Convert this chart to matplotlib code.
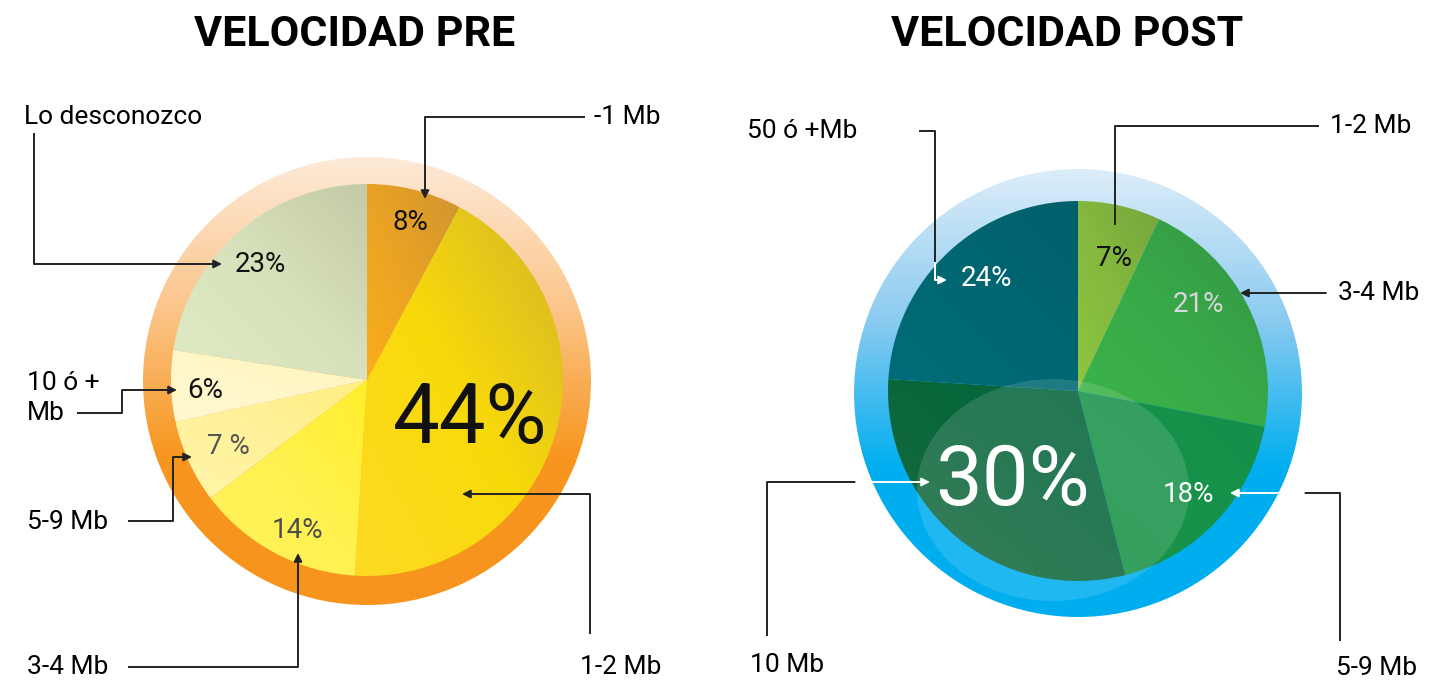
import numpy as np
import matplotlib
matplotlib.use('Agg')
import matplotlib.pyplot as plt
from matplotlib.colors import LinearSegmentedColormap
from matplotlib.patches import Circle, Ellipse

plt.rcParams['font.family'] = ['Roboto', 'DejaVu Sans']

# datos
pre_labels = ['-1 Mb', '1-2 Mb', '3-4 Mb', '5-9 Mb', '10 ó +\nMb', 'Lo desconozco']
pre_values = [8, 44, 14, 7, 6, 23]
pre_pct = ['8%', '44%', '14%', '7 %', '6%', '23%']

post_labels = ['1-2 Mb', '3-4 Mb', '5-9 Mb', '10 Mb', '50 ó +Mb']
post_values = [7, 21, 18, 30, 24]
post_pct = ['7%', '21%', '18%', '30%', '24%']

W, H = 1437, 683
fig = plt.figure(figsize=(W / 100, H / 100), dpi=100)
ax = fig.add_axes([0, 0, 1, 1])


def Y(py):
    return H - py


def grad_fill(patch, colors, extent, z, diag=False):
    cmap = LinearSegmentedColormap.from_list('g', colors)
    if diag:
        # de arriba-derecha (0) a abajo-izquierda (1)
        u = np.linspace(0, 1, 200)[None, :]
        v = np.linspace(0, 1, 200)[:, None]
        g = ((1 - u) + v) / 2
    else:
        g = np.linspace(0, 1, 256)[:, None]
    im = ax.imshow(g, cmap=cmap, extent=extent, origin='upper',
                   aspect='auto', zorder=z, interpolation='bilinear')
    im.set_clip_path(patch)


def draw_pie(values, center, r, ring_c, ring_r, ring_cols, slice_cols):
    cx, cy = ring_c
    ring = Circle((cx, cy), ring_r, facecolor='none', edgecolor='none')
    ax.add_patch(ring)
    grad_fill(ring, ring_cols, (cx - ring_r, cx + ring_r, cy - ring_r, cy + ring_r), 1)
    wedges, _ = ax.pie(values, center=center, radius=r, startangle=90,
                       counterclock=False, frame=True,
                       wedgeprops=dict(linewidth=0))
    for w, cols in zip(wedges, slice_cols):
        w.set_facecolor('none')
        w.set_zorder(2)
        bb = w.get_path().get_extents()
        grad_fill(w, cols, (bb.x0, bb.x1, bb.y0, bb.y1), 2, diag=True)
    return wedges


# --- PRE ---
pre_cols = [('#CF952F', '#E9A225', '#FAAE1A'),
            ('#D3B42A', '#F8DA0A', '#FDDA24'),
            ('#FFEE2A', '#FFF150', '#FFF35E'),
            ('#FFEF82', '#FFF29A', '#FFF5AA'),
            ('#FFF4BA', '#FFF7C8', '#FFF9D2'),
            ('#C4C9A6', '#D7E2BC', '#DFEBC5')]
draw_pie(pre_values, (367, Y(380)), 196, (367, Y(381)), 224,
         ['#FEEAD8', '#FBC68C', '#F7961F', '#F7941D'], pre_cols)

# --- POST ---
post_cols = [('#77A43D', '#84B83E', '#8DC63F'),
             ('#339444', '#38A948', '#3CB44A'),
             ('#15904A', '#17924A', '#1A9545'),
             ('#00633A', '#0A673C', '#1E6A3F'),
             ('#005F6B', '#006772', '#006C77')]
draw_pie(post_values, (1078, Y(391)), 190, (1078, Y(393)), 224,
         ['#DCEDF9', '#8CCBF0', '#00AEEF', '#00AEEF'], post_cols)
ax.add_patch(Ellipse((1053, Y(490)), 272, 222, facecolor='#FFFFFF', alpha=0.13,
                     edgecolor='none', zorder=3))

# titulos
ax.text(355, Y(35), 'VELOCIDAD PRE', ha='center', va='center', fontsize=31,
        fontweight='bold', color='black', zorder=6)
ax.text(1067, Y(35), 'VELOCIDAD POST', ha='center', va='center', fontsize=31,
        fontweight='bold', color='black', zorder=6)

# porcentajes
pre_pos = [(410, 222), (470, 420), (297, 530), (228, 447), (205, 390), (260, 264)]
pre_size = [20, 60, 20, 20, 20, 20]
pre_tc = ['#111111', '#111111', '#4D4D4D', '#555555', '#111111', '#111111']
for t, (x, y), s, c in zip(pre_pct, pre_pos, pre_size, pre_tc):
    ax.text(x, Y(y), t, ha='center', va='center', fontsize=s, color=c, zorder=6)

post_pos = [(1114, 259), (1198, 304), (1188, 494), (1012, 482), (987, 278)]
post_size = [20, 20, 20, 60, 20]
post_tc = ['#111111', '#D8D8D8', 'white', 'white', 'white']
for t, (x, y), s, c in zip(post_pct, post_pos, post_size, post_tc):
    ax.text(x, Y(y), t, ha='center', va='center', fontsize=s, color=c, zorder=6)


def leader(pts, color='#222222', arrow=True):
    pts = [(x, Y(y)) for x, y in pts]
    if arrow:
        xs = [p[0] for p in pts[:-1]]
        ys = [p[1] for p in pts[:-1]]
        ax.plot(xs, ys, color=color, lw=1.4, zorder=7, solid_capstyle='butt')
        ax.annotate('', xy=pts[-1], xytext=pts[-2],
                    arrowprops=dict(arrowstyle='-|>', color=color, lw=1.4,
                                    mutation_scale=12, shrinkA=0, shrinkB=0),
                    zorder=7)
    else:
        ax.plot([p[0] for p in pts], [p[1] for p in pts], color=color, lw=1.4,
                zorder=7)


lab_fs = 19
# etiquetas PRE
ax.text(594, Y(117), pre_labels[0], ha='left', va='center', fontsize=lab_fs)
leader([(585, 117), (425, 117), (425, 199)])
ax.text(580, Y(667), pre_labels[1], ha='left', va='center', fontsize=lab_fs)
leader([(590, 634), (590, 494), (462, 494)])
ax.text(27, Y(667), pre_labels[2], ha='left', va='center', fontsize=lab_fs)
leader([(128, 667), (298, 667), (298, 553)])
ax.text(27, Y(522), pre_labels[3], ha='left', va='center', fontsize=lab_fs)
leader([(128, 521), (173, 521), (173, 457), (192, 457)])
ax.text(27, Y(398), pre_labels[4], ha='left', va='center', fontsize=lab_fs,
        linespacing=1.3)
leader([(77, 413), (122, 413), (122, 390), (177, 390)])
ax.text(24, Y(117), pre_labels[5], ha='left', va='center', fontsize=lab_fs)
leader([(34, 133), (34, 264), (222, 264)])

# etiquetas POST
ax.text(1330, Y(126), post_labels[0], ha='left', va='center', fontsize=lab_fs)
leader([(1318, 126), (1115, 126), (1115, 224)], arrow=False)
ax.text(1338, Y(293), post_labels[1], ha='left', va='center', fontsize=lab_fs)
leader([(1326, 293), (1240, 293)])
ax.text(1336, Y(668), post_labels[2], ha='left', va='center', fontsize=lab_fs)
leader([(1340, 640), (1340, 493), (1304, 493)], arrow=False)
leader([(1304, 493), (1230, 493)], color='white')
ax.text(750, Y(665), post_labels[3], ha='left', va='center', fontsize=lab_fs)
leader([(767, 635), (767, 482), (856, 482)], arrow=False)
leader([(856, 482), (930, 482)], color='white')
ax.text(747, Y(131), post_labels[4], ha='left', va='center', fontsize=lab_fs)
leader([(920, 131), (935, 131), (935, 262)], arrow=False)
leader([(935, 262), (935, 280), (947, 280)], color='white')

ax.set_xlim(0, W)
ax.set_ylim(0, H)
ax.set_aspect('auto')
ax.axis('off')
fig.savefig('out.png', dpi=100, facecolor='white')
